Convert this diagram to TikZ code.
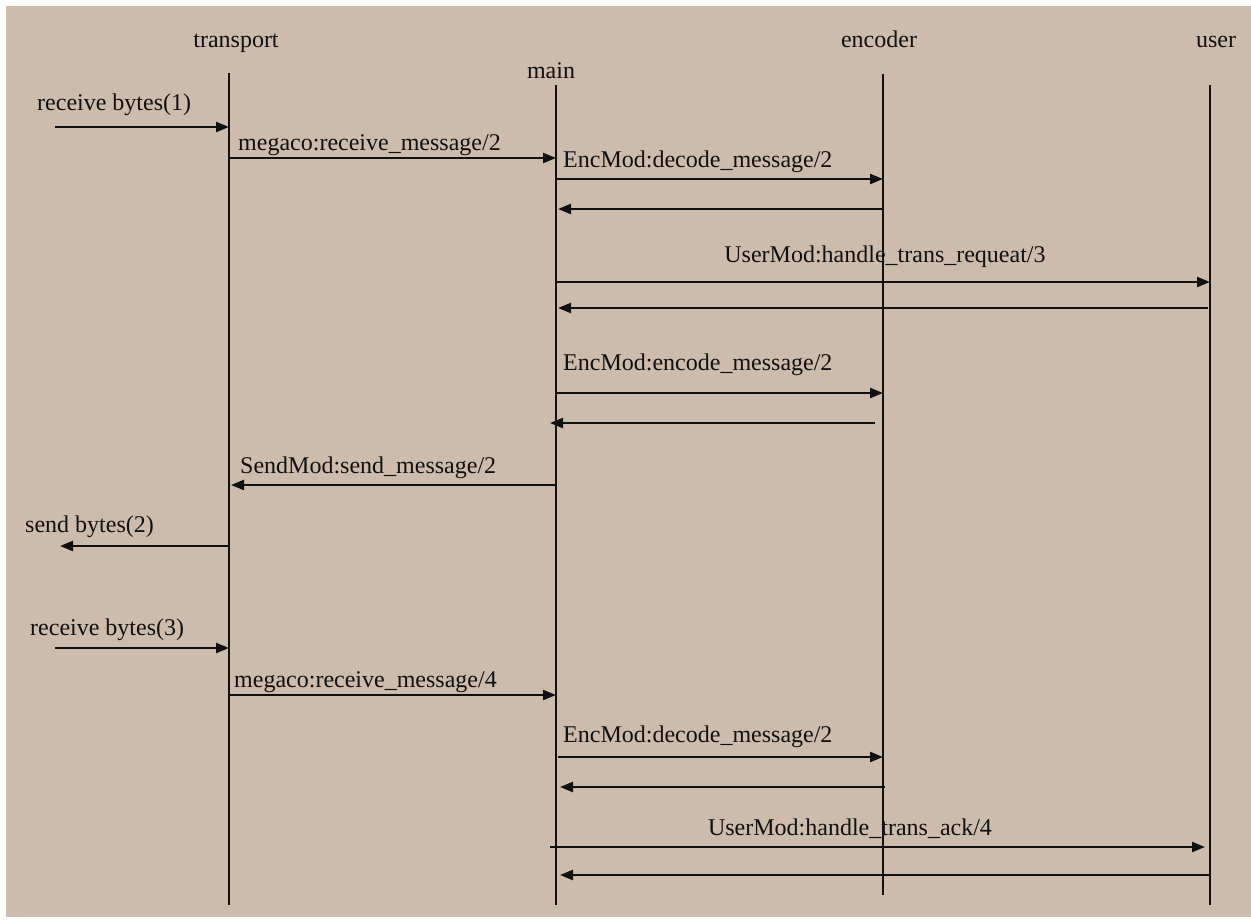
\documentclass[tikz,border=0pt]{standalone}
\usepackage{fontspec}
\setmainfont{Liberation Serif}
\usetikzlibrary{arrows.meta}
\definecolor{bg}{HTML}{CDBCAB}
\definecolor{ink}{HTML}{101010}
\begin{document}
\begin{tikzpicture}[x=1pt,y=-1pt,
  every node/.style={font=\fontsize{24}{26}\selectfont, text=ink, inner sep=0pt},
  life/.style={draw=ink, line width=2.2pt},
  msg/.style={draw=ink, line width=2.2pt, -{Triangle[length=13pt,width=10pt]}},
  lbl/.style={anchor=base west},
  clbl/.style={anchor=base}]
\useasboundingbox (0,0) rectangle (1251,922);
\fill[white] (0,0) rectangle (1251,922);
\fill[bg] (6,6) rectangle (1251,917);

% headers
\node[clbl] (transport) at (236,47) {transport};
\node[clbl] (main) at (551,78) {main};
\node[clbl] (encoder) at (879,47) {encoder};
\node[clbl] (user) at (1216,47) {user};

% lifelines
\coordinate (tT) at (229,73);  \coordinate (tB) at (229,905);
\coordinate (mT) at (556,85);  \coordinate (mB) at (556,905);
\coordinate (eT) at (883,74);  \coordinate (eB) at (883,895);
\coordinate (uT) at (1210,85); \coordinate (uB) at (1210,905);
\draw[life] (tT) -- (tB);
\draw[life] (mT) -- (mB);
\draw[life] (eT) -- (eB);
\draw[life] (uT) -- (uB);

% message endpoints
\coordinate (a1) at (55,127);   \coordinate (b1) at (229,127);
\coordinate (a2) at (229,158);  \coordinate (b2) at (556,158);
\coordinate (a3) at (556,179);  \coordinate (b3) at (883,179);
\coordinate (a4) at (883,209);  \coordinate (b4) at (558,209);
\coordinate (a5) at (556,282);  \coordinate (b5) at (1210,282);
\coordinate (a6) at (1208,308); \coordinate (b6) at (558,308);
\coordinate (a7) at (556,393);  \coordinate (b7) at (883,393);
\coordinate (a8) at (875,423);  \coordinate (b8) at (550,423);
\coordinate (a9) at (556,485);  \coordinate (b9) at (231,485);
\coordinate (a10) at (229,546); \coordinate (b10) at (60,546);
\coordinate (a11) at (55,648);  \coordinate (b11) at (229,648);
\coordinate (a12) at (229,695); \coordinate (b12) at (556,695);
\coordinate (a13) at (558,757); \coordinate (b13) at (883,757);
\coordinate (a14) at (885,787); \coordinate (b14) at (560,787);
\coordinate (a15) at (550,847); \coordinate (b15) at (1205,847);
\coordinate (a16) at (1210,875);\coordinate (b16) at (560,875);

\draw[msg] (a1) -- (b1);
\draw[msg] (a2) -- (b2);
\draw[msg] (a3) -- (b3);
\draw[msg] (a4) -- (b4);
\draw[msg] (a5) -- (b5);
\draw[msg] (a6) -- (b6);
\draw[msg] (a7) -- (b7);
\draw[msg] (a8) -- (b8);
\draw[msg] (a9) -- (b9);
\draw[msg] (a10) -- (b10);
\draw[msg] (a11) -- (b11);
\draw[msg] (a12) -- (b12);
\draw[msg] (a13) -- (b13);
\draw[msg] (a14) -- (b14);
\draw[msg] (a15) -- (b15);
\draw[msg] (a16) -- (b16);

% labels
\node[lbl] (l1) at (37,110) {receive bytes(1)};
\node[lbl] (l2) at (238,150) {megaco:receive\_message/2};
\node[lbl] (l3) at (563,167) {EncMod:decode\_message/2};
\node[clbl] (l5) at (885,262) {UserMod:handle\_trans\_requeat/3};
\node[lbl] (l7) at (563,370) {EncMod:encode\_message/2};
\node[lbl] (l9) at (240,473) {SendMod:send\_message/2};
\node[lbl] (l10) at (25,532) {send bytes(2)};
\node[lbl] (l11) at (30,635) {receive bytes(3)};
\node[lbl] (l12) at (234,687) {megaco:receive\_message/4};
\node[lbl] (l13) at (563,742) {EncMod:decode\_message/2};
\node[clbl] (l15) at (850,835) {UserMod:handle\_trans\_ack/4};
\end{tikzpicture}
\end{document}
